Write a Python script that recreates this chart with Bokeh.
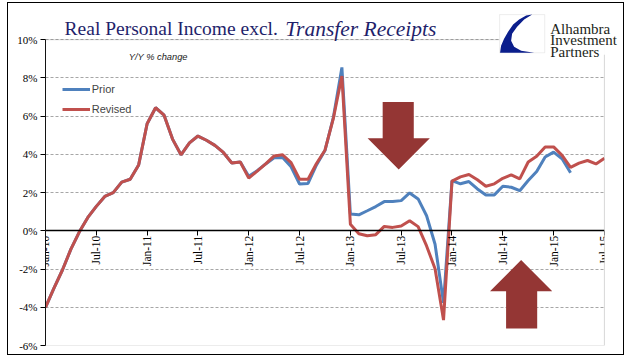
import numpy as np
from bokeh.plotting import figure
from bokeh.models import (FixedTicker, Legend, Label, PolyAnnotation,
                          BoxAnnotation, ColumnDataSource)
from bokeh.embed import file_html
from bokeh.resources import INLINE

# ---------------- data ----------------
x_tick_pos = [0, 6, 12, 18, 24, 30, 36, 42, 48, 54, 60, 66]
x_tick_labels = ["Jan-10", "Jul-10", "Jan-11", "Jul-11", "Jan-12", "Jul-12",
                 "Jan-13", "Jul-13", "Jan-14", "Jul-14", "Jan-15", "Jul-15"]
y_tick_pos = [-6, -4, -2, 0, 2, 4, 6, 8, 10]
y_tick_labels = ["-6%", "-4%", "-2%", "0%", "2%", "4%", "6%", "8%", "10%"]

# monthly, Jan-10 .. Jul-15
revised = [-4.0, -3.0, -2.05, -0.96, -0.05, 0.7, 1.28, 1.8, 2.0, 2.55, 2.7, 3.45,
           5.6, 6.44, 6.05, 4.8, 3.98, 4.6, 4.96, 4.74, 4.47, 4.1, 3.55, 3.6,
           2.76, 3.12, 3.5, 3.92, 3.98, 3.57, 2.7, 2.7, 3.52, 4.22, 5.9, 8.1,
           0.35, -0.15, -0.26, -0.2, 0.23, 0.18, 0.25, 0.53, 0.22, -0.79, -1.98, -4.67,
           2.6, 2.82, 2.95, 2.67, 2.33, 2.46, 2.75, 2.93, 2.72, 3.6, 3.9, 4.39,
           4.39, 3.95, 3.32, 3.54, 3.68, 3.5, 3.8]
# monthly, Jan-10 .. Mar-15
prior = [-4.0, -3.0, -2.05, -0.96, -0.05, 0.7, 1.28, 1.8, 2.0, 2.55, 2.7, 3.45,
         5.6, 6.44, 6.05, 4.8, 3.98, 4.6, 4.96, 4.74, 4.47, 4.1, 3.55, 3.6,
         2.85, 3.15, 3.5, 3.82, 3.84, 3.35, 2.45, 2.48, 3.45, 4.2, 5.95, 8.55,
         0.88, 0.84, 1.05, 1.27, 1.53, 1.53, 1.58, 1.98, 1.67, 0.79, -0.7, -3.77,
         2.63, 2.46, 2.58, 2.19, 1.88, 1.88, 2.33, 2.28, 2.1, 2.63, 3.1, 3.86,
         4.12, 3.77, 3.04]

month_rev = list(range(len(revised)))
month_pri = list(range(len(prior)))

# ---------------- figure ----------------
# canvas sits at page (8, 3); frame spans page x 45..623, y 3..343;
# the plotted area itself is x 45..602, y 39..343
X_END = 66 + 21 * 66.0 / 557.0
Y_TOP = 10 + 36 / 19.0
p = figure(width=617, height=353, x_range=(0, X_END), y_range=(-6, Y_TOP),
           output_backend="svg", toolbar_location=None,
           min_border_left=37, min_border_right=0, min_border_top=0,
           min_border_bottom=11)
p.styles = {"border": "1px solid #000000", "margin": "2px 0px 0px 7px",
            "box-sizing": "border-box"}
p.background_fill_color = "white"
p.border_fill_color = "white"
p.outline_line_color = None


# page-pixel -> data helpers for decorations
def dx(px):
    return (px - 45) * 66.0 / 557.0


def dy(py):
    return (343 - py) / 19.0 - 6


# axes
xa = p.xaxis[0]
xa.fixed_location = 0
xa.bounds = (0, 66)
xa.ticker = FixedTicker(ticks=x_tick_pos)
xa.major_label_overrides = {t: l for t, l in zip(x_tick_pos, x_tick_labels)}
xa.major_label_orientation = np.pi / 2
xa.major_label_text_font = "Liberation Serif"
xa.major_label_text_font_size = "11.5px"
xa.major_label_text_color = "#000000"
xa.axis_line_color = "#000000"
xa.axis_line_width = 1.5
xa.major_tick_out = 5
xa.major_tick_in = 0
xa.minor_tick_line_color = None
xa.major_label_standoff = 0

ya = p.yaxis[0]
ya.bounds = (-6, 10)
ya.ticker = FixedTicker(ticks=y_tick_pos)
ya.major_label_overrides = {t: l for t, l in zip(y_tick_pos, y_tick_labels)}
ya.major_label_text_font = "Liberation Serif"
ya.major_label_text_font_size = "11px"
ya.major_label_text_color = "#000000"
ya.axis_line_color = "#000000"
ya.major_tick_out = 5
ya.major_tick_in = 0
ya.minor_tick_line_color = None
ya.major_label_standoff = 3

p.xgrid.visible = False
p.ygrid.ticker = FixedTicker(ticks=y_tick_pos)
p.ygrid.grid_line_color = "#a6a6a6"
p.ygrid.grid_line_dash = "3 2"
p.ygrid.grid_line_width = 1

# series
src_p = ColumnDataSource(dict(m=month_pri, v=prior))
src_r = ColumnDataSource(dict(m=month_rev, v=revised))
r_prior = p.line("m", "v", source=src_p, line_color="#4F81BD", line_width=3)
r_rev = p.line("m", "v", source=src_r, line_color="#C0504D", line_width=3)

# blank out the frame right of the plotted area (hides grid there)
p.add_layout(BoxAnnotation(left=66, fill_color="white", fill_alpha=1,
                           line_alpha=0))
# plot-area border
p.add_layout(BoxAnnotation(left=0, right=66, bottom=-6, top=10,
                           fill_alpha=0, line_color="#7f7f7f", line_width=1))

legend = Legend(items=[("Prior", [r_prior]), ("Revised", [r_rev])],
                location=(16.7, 225.7), padding=0, margin=0, spacing=0,
                glyph_width=28, glyph_height=20, label_height=20,
                label_standoff=2, label_text_font="Liberation Sans",
                label_text_font_size="11px", border_line_alpha=0,
                background_fill_alpha=0)
p.add_layout(legend)

# subtitle
p.add_layout(Label(x=dx(128), y=dy(56), text="Y/Y % change",
                   text_font="Liberation Sans", text_font_style="italic",
                   text_font_size="9.3px", text_color="#222222",
                   text_baseline="middle"))

# arrows
ARROW = "#943634"
down_x = [dx(v) for v in [381, 412, 412, 428, 397, 366, 381]]
down_y = [dy(v) for v in [101, 101, 137, 137, 168, 137, 137]]
up_x = [dx(v) for v in [504, 535, 535, 550, 519, 488, 504]]
up_y = [dy(v) for v in [326, 326, 289, 289, 258, 289, 289]]
p.add_layout(PolyAnnotation(xs=down_x, ys=down_y, fill_color=ARROW,
                            fill_alpha=1, line_alpha=0))
p.add_layout(PolyAnnotation(xs=up_x, ys=up_y, fill_color=ARROW,
                            fill_alpha=1, line_alpha=0))

# title
TITLE = "#1f1f6b"
p.add_layout(Label(x=dx(64), y=dy(28), text="Real Personal Income excl.",
                   text_font="Liberation Serif", text_font_size="19.5px",
                   text_color=TITLE, text_baseline="alphabetic"))
p.add_layout(Label(x=dx(284), y=dy(28), text="Transfer Receipts",
                   text_font="Liberation Serif", text_font_style="italic",
                   text_font_size="21.5px", text_color=TITLE,
                   text_baseline="alphabetic"))

# logo (covers the top-right corner of the plot-area border)
p.add_layout(BoxAnnotation(left=dx(497.5), right=dx(602.5), top=dy(3),
                           bottom=dy(54), fill_color="white", fill_alpha=1,
                           line_alpha=0))
p.add_layout(BoxAnnotation(left=dx(497.5), right=dx(542.5), top=dy(14),
                           bottom=dy(52), fill_color="white", fill_alpha=1,
                           line_color="#c8c8c8", line_width=1))
lx = [498, 499, 502, 506, 511, 517, 524, 530, 522, 515, 510, 509, 512, 519, 532]
ly = [52, 45, 38, 31, 24, 19, 15, 14, 19, 26, 33, 40, 46, 50, 52]
p.add_layout(PolyAnnotation(xs=[dx(v) for v in lx], ys=[dy(v) for v in ly],
                            fill_color="#0b1e8c", fill_alpha=1, line_alpha=0))
for txt, base in [("Alhambra", 28), ("Investment", 39.5), ("Partners", 51)]:
    p.add_layout(Label(x=dx(548), y=dy(base), text=txt,
                       text_font="Liberation Serif", text_font_size="15px",
                       text_color="#231f20", text_baseline="alphabetic"))

open("out.html", "w").write(file_html(p, INLINE))
